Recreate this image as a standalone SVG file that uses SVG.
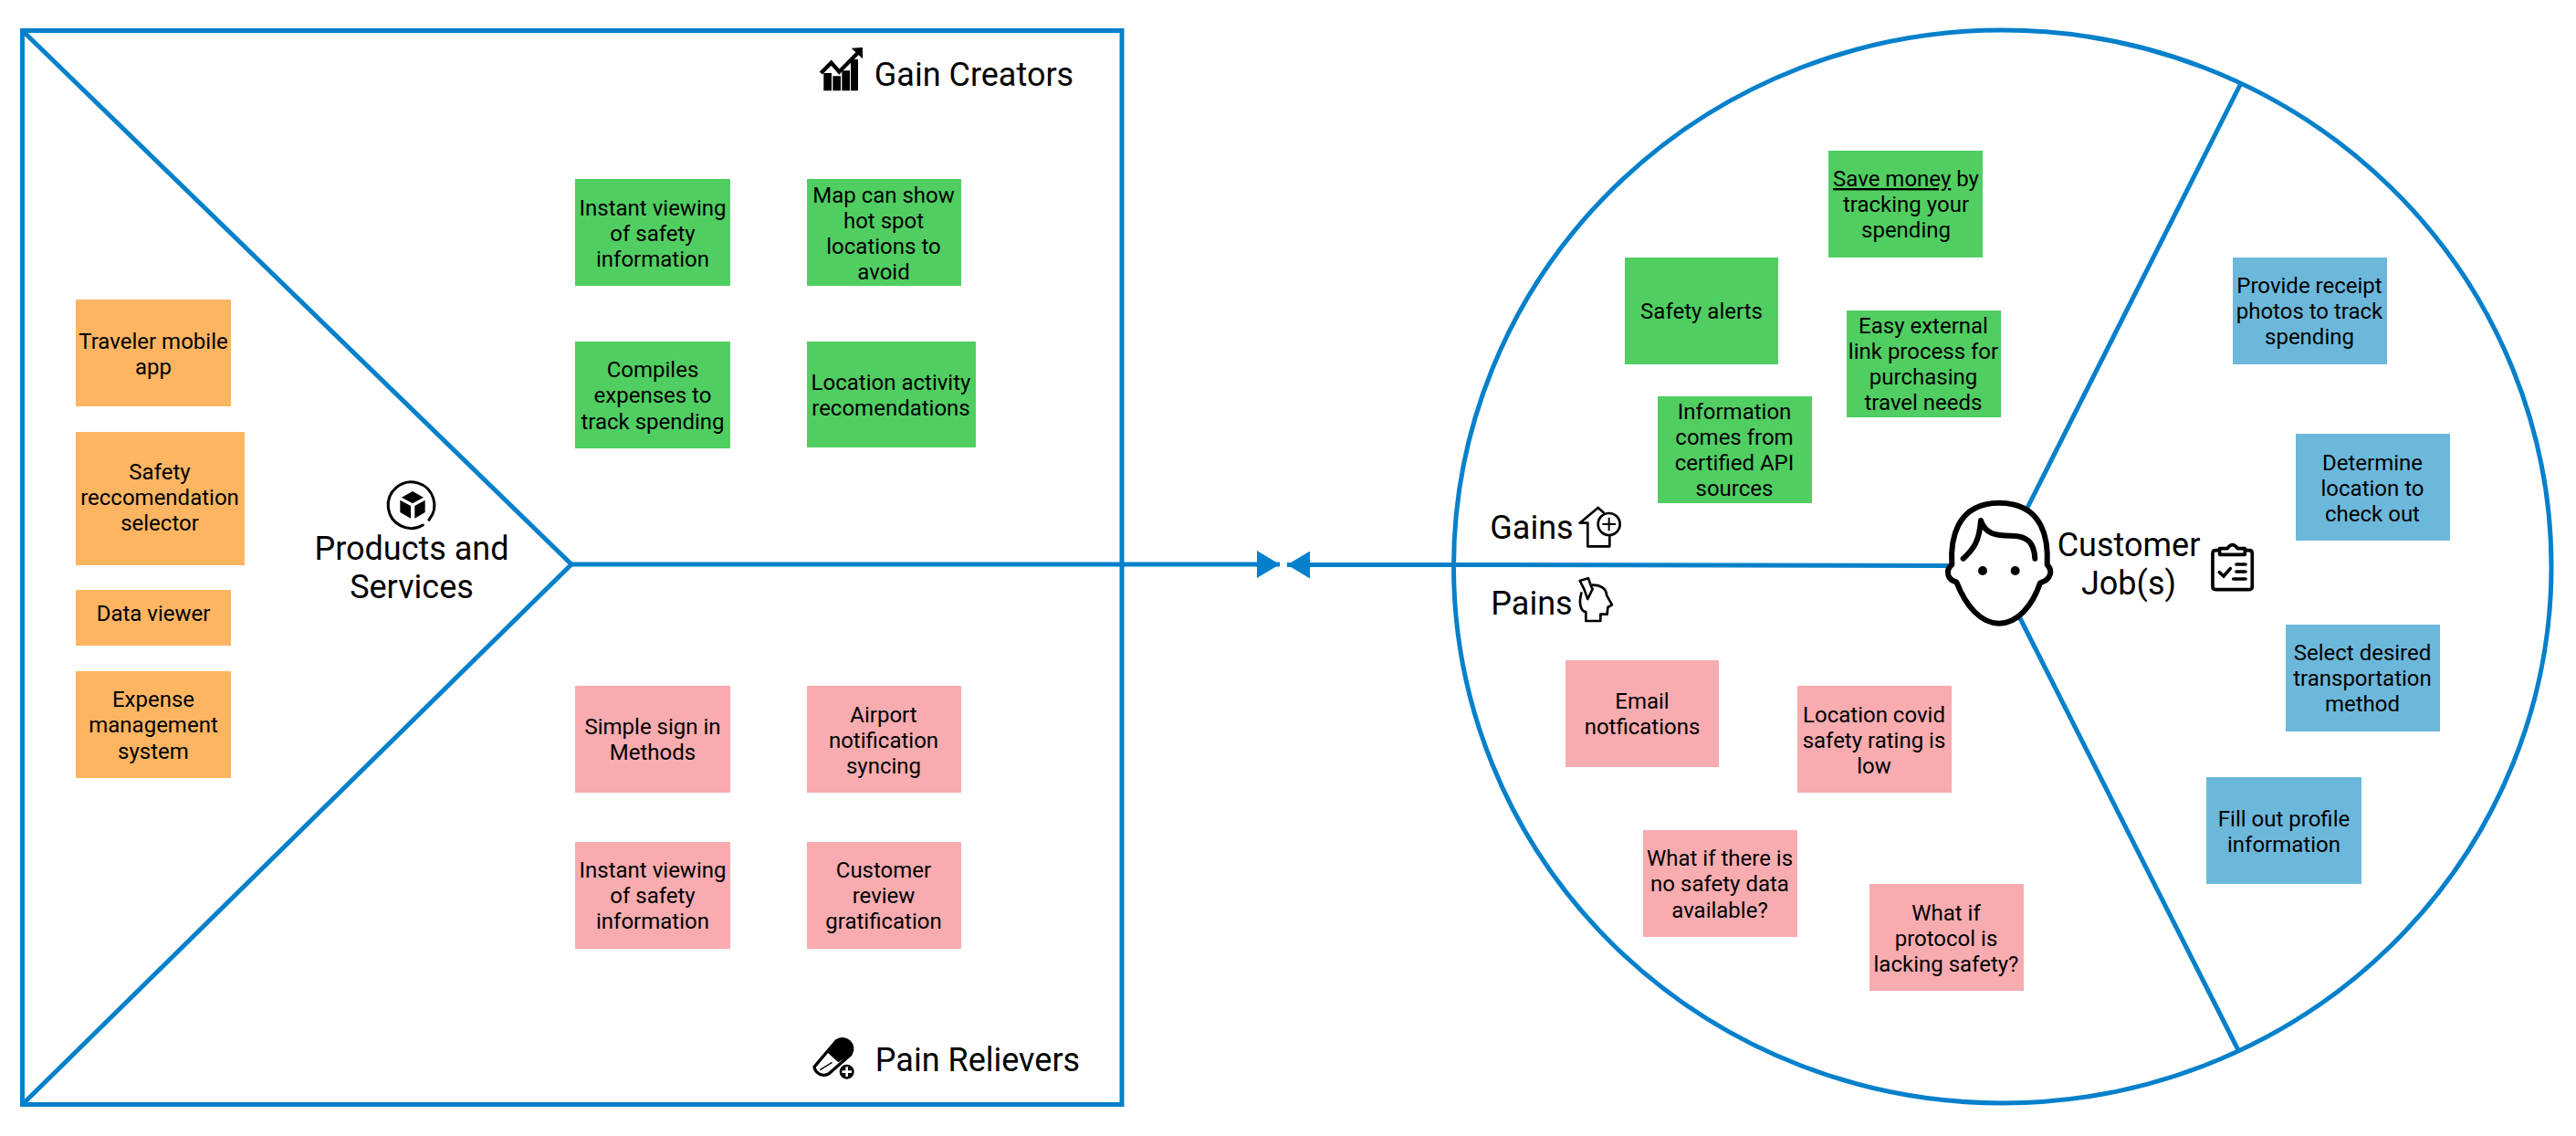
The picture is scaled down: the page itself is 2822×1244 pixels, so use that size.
<svg xmlns="http://www.w3.org/2000/svg" width="2822" height="1244" viewBox="0 0 2822 1244">
<style>
text{font-family:Roboto,"Liberation Sans",sans-serif;fill:#000;text-anchor:middle}
.s{font-size:24px}
.t{font-size:36px}
.l{fill:none;stroke:#0580cb;stroke-width:5}
.o{fill:#fdb562}.g{fill:#51ce62}.p{fill:#f8acb0}.b{fill:#6cb8db}
.f{fill:#000;stroke:none}
</style>
<defs>
<marker id="a" markerUnits="userSpaceOnUse" markerWidth="26" markerHeight="30" refX="25" refY="15" orient="auto"><path d="M0 0L25 15L0 30Z" fill="#0580cb"/></marker>
</defs>
<g id="connectors">
<rect class="l" x="24.500" y="33.500" width="1204.500" height="1176"/>
<path class="l" d="M24.500 33.500L626 618L24.500 1209.500"/>
<ellipse class="l" cx="2193.750" cy="620.500" rx="601.250" ry="587.500"/>
<path class="l" d="M2220 558L2455 91"/>
<path class="l" d="M2213 677L2452 1150"/>
<path class="l" d="M626 618H1402" marker-end="url(#a)"/>
<path class="l" d="M2140 619.500L1640 618.500H1410" marker-end="url(#a)"/>
</g>
<g id="gain-creators">
<g transform="translate(860 20) scale(.3333)">
<path class="f" d="M127 180h26v58h-26zM157 190h26v48h-26zM187 172h26v66h-26zM216 135h24v103h-24z"/>
<path d="M118 180L152 146L178 176L245 108" fill="none" stroke="#000" stroke-width="13"/>
<path class="f" d="M218 98L255 96L255 133Z"/>
</g>
<text class="t" x="1067" y="94">Gain Creators</text>
</g>
<g id="pain-relievers">
<g transform="translate(860 1110) scale(.3333)">
<path d="M96 175L168 90A33 33 0 0 1 216 134L146 196A32 32 0 0 1 96 175Z" fill="#fff" stroke="#000" stroke-width="10" stroke-linejoin="round"/>
<path class="f" d="M140 128L168 90A33 33 0 0 1 216 134L175 160Z"/>
<path d="M115 185L155 160" fill="none" stroke="#000" stroke-width="4"/>
<circle class="f" cx="203" cy="191" r="24"/>
<path d="M203 175v32M187 191h32" stroke="#fff" stroke-width="8"/>
</g>
<text class="t" x="1071" y="1173">Pain Relievers</text>
</g>
<g id="products-services">
<g transform="translate(320 500) scale(.3333)">
<path d="M450 208A76 76 0 1 0 430 225" fill="none" stroke="#000" stroke-width="9" stroke-linecap="round"/>
<path class="f" d="M396 114L432 134L396 154L360 134ZM355 143L390 162V203L355 183ZM437 143V183L403 203V162Z"/>
</g>
<text class="t" x="451" y="613">Products and</text>
<text class="t" x="451" y="655">Services</text>
</g>
<g id="traveler-mobile-app"><rect class="o" x="83" y="328" width="170" height="117"/><text class="s" x="168" y="382">Traveler mobile</text><text class="s" x="168" y="410">app</text></g>
<g id="safety-recommendation"><rect class="o" x="83" y="473" width="185" height="146"/><text class="s" x="175" y="525">Safety</text><text class="s" x="175" y="553">reccomendation</text><text class="s" x="175" y="581">selector</text></g>
<g id="data-viewer"><rect class="o" x="83" y="646" width="170" height="61"/><text class="s" x="168" y="680">Data viewer</text></g>
<g id="expense-management"><rect class="o" x="83" y="735" width="170" height="117"/><text class="s" x="168" y="774">Expense</text><text class="s" x="168" y="802">management</text><text class="s" x="168" y="831">system</text></g>
<g id="gc1"><rect class="g" x="630" y="196" width="170" height="117"/><text class="s" x="715" y="236">Instant viewing</text><text class="s" x="715" y="264">of safety</text><text class="s" x="715" y="292">information</text></g>
<g id="gc2"><rect class="g" x="884" y="196" width="169" height="117"/><text class="s" x="968" y="222">Map can show</text><text class="s" x="968" y="250">hot spot</text><text class="s" x="968" y="278">locations to</text><text class="s" x="968" y="306">avoid</text></g>
<g id="gc3"><rect class="g" x="630" y="374" width="170" height="117"/><text class="s" x="715" y="413">Compiles</text><text class="s" x="715" y="441">expenses to</text><text class="s" x="715" y="470">track spending</text></g>
<g id="gc4"><rect class="g" x="884" y="374" width="185" height="116"/><text class="s" x="976" y="427">Location activity</text><text class="s" x="976" y="455">recomendations</text></g>
<g id="pr1"><rect class="p" x="630" y="751" width="170" height="117"/><text class="s" x="715" y="804">Simple sign in</text><text class="s" x="715" y="832">Methods</text></g>
<g id="pr2"><rect class="p" x="884" y="751" width="169" height="117"/><text class="s" x="968" y="791">Airport</text><text class="s" x="968" y="819">notification</text><text class="s" x="968" y="847">syncing</text></g>
<g id="pr3"><rect class="p" x="630" y="922" width="170" height="117"/><text class="s" x="715" y="961">Instant viewing</text><text class="s" x="715" y="989">of safety</text><text class="s" x="715" y="1017">information</text></g>
<g id="pr4"><rect class="p" x="884" y="922" width="169" height="117"/><text class="s" x="968" y="961">Customer</text><text class="s" x="968" y="989">review</text><text class="s" x="968" y="1017">gratification</text></g>
<g id="g1"><rect class="g" x="2003" y="165" width="169" height="117"/><text class="s" x="2088" y="204"><tspan text-decoration="underline">Save money</tspan> by</text><text class="s" x="2088" y="232">tracking your</text><text class="s" x="2088" y="260">spending</text></g>
<g id="g2"><rect class="g" x="1780" y="282" width="168" height="117"/><text class="s" x="1864" y="349">Safety alerts</text></g>
<g id="g3"><rect class="g" x="2023" y="340" width="169" height="117"/><text class="s" x="2107" y="365">Easy external</text><text class="s" x="2107" y="393">link process for</text><text class="s" x="2107" y="421">purchasing</text><text class="s" x="2107" y="449">travel needs</text></g>
<g id="g4"><rect class="g" x="1816" y="434" width="169" height="117"/><text class="s" x="1900" y="459">Information</text><text class="s" x="1900" y="487">comes from</text><text class="s" x="1900" y="515">certified API</text><text class="s" x="1900" y="543">sources</text></g>
<g id="gains">
<text class="t" x="1678" y="590">Gains</text>
<g transform="translate(1600 530) scale(.3333)">
<path d="M490 170V205H418V128H392L452 78L470 94" fill="none" stroke="#000" stroke-width="8" stroke-linejoin="round" stroke-linecap="round"/>
<circle cx="488" cy="132" r="36" fill="#fff" stroke="#000" stroke-width="8"/>
<path d="M488 110v44M466 132h44" stroke="#000" stroke-width="6"/>
</g>
</g>
<g id="pains">
<text class="t" x="1678" y="673">Pains</text>
<g transform="translate(1600 530) scale(.3333)">
<path d="M398 355C385 400 400 420 412 420V450H460V428H482L484 405L498 397L480 365C480 345 460 330 432 332" fill="none" stroke="#000" stroke-width="8" stroke-linejoin="round"/>
<path d="M392 318L420 310L430 338L434 345L418 378L406 345Z" fill="#fff" stroke="#000" stroke-width="8" stroke-linejoin="round"/>
</g>
</g>
<g id="p1"><rect class="p" x="1715" y="723" width="168" height="117"/><text class="s" x="1799" y="776">Email</text><text class="s" x="1799" y="804">notfications</text></g>
<g id="p2"><rect class="p" x="1969" y="751" width="169" height="117"/><text class="s" x="2053" y="791">Location covid</text><text class="s" x="2053" y="819">safety rating is</text><text class="s" x="2053" y="847">low</text></g>
<g id="p3"><rect class="p" x="1800" y="909" width="169" height="117"/><text class="s" x="1884" y="948">What if there is</text><text class="s" x="1884" y="976">no safety data</text><text class="s" x="1884" y="1005">available?</text></g>
<g id="p4"><rect class="p" x="2048" y="968" width="169" height="117"/><text class="s" x="2132" y="1008">What if</text><text class="s" x="2132" y="1036">protocol is</text><text class="s" x="2132" y="1064">lacking safety?</text></g>
<g id="customer">
<g transform="translate(2100 530) scale(.3333)">
<path d="M130 322C100 315 92 285 115 265C110 190 125 62 270 62C420 62 432 190 428 265C448 285 440 315 405 325C380 400 330 458 270 458C210 458 160 400 130 322Z" fill="#fff" stroke="#000" stroke-width="18" stroke-linejoin="round"/>
<path d="M152 245C185 215 205 190 210 120C225 165 260 170 310 170C360 170 385 190 388 245" fill="none" stroke="#000" stroke-width="18" stroke-linecap="round" stroke-linejoin="round"/>
<circle class="f" cx="216" cy="285" r="15"/><circle class="f" cx="323" cy="285" r="15"/>
<path d="M995 218H982Q972 218 972 228V337Q972 347 982 347H1092Q1102 347 1102 337V228Q1102 218 1092 218H1078" fill="none" stroke="#000" stroke-width="11"/>
<path d="M995 232V212H1020Q1037 188 1054 212H1078V232Z" fill="#fff" stroke="#000" stroke-width="11" stroke-linejoin="round"/>
<path d="M994 290L1008 303L1030 278" fill="none" stroke="#000" stroke-width="11" stroke-linecap="round"/>
<path d="M1050 264H1080M1050 288H1080M1040 312H1080" fill="none" stroke="#000" stroke-width="11" stroke-linecap="round"/>
</g>
<text class="t" x="2332" y="609">Customer</text>
<text class="t" x="2332" y="651">Job(s)</text>
</g>
<g id="j1"><rect class="b" x="2446" y="282" width="169" height="117"/><text class="s" x="2530" y="321">Provide receipt</text><text class="s" x="2530" y="349">photos to track</text><text class="s" x="2530" y="377">spending</text></g>
<g id="j2"><rect class="b" x="2515" y="475" width="169" height="117"/><text class="s" x="2599" y="515">Determine</text><text class="s" x="2599" y="543">location to</text><text class="s" x="2599" y="571">check out</text></g>
<g id="j3"><rect class="b" x="2504" y="684" width="169" height="117"/><text class="s" x="2588" y="723">Select desired</text><text class="s" x="2588" y="751">transportation</text><text class="s" x="2588" y="779">method</text></g>
<g id="j4"><rect class="b" x="2417" y="851" width="170" height="117"/><text class="s" x="2502" y="905">Fill out profile</text><text class="s" x="2502" y="933">information</text></g>
</svg>
